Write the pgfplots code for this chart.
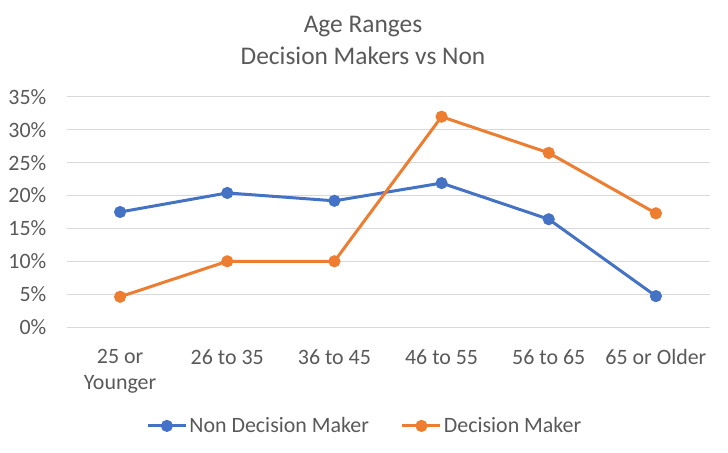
\documentclass[border=0pt]{standalone}
\usepackage{pgfplots}
\pgfplotsset{compat=1.18}
\usepackage{fontspec}
\setmainfont{Carlito}
\definecolor{cblue}{HTML}{4472C4}
\definecolor{corange}{HTML}{ED7D31}
\definecolor{ctext}{HTML}{595959}
\definecolor{cgrid}{HTML}{D9D9D9}
\begin{document}
\begin{tikzpicture}
\path[use as bounding box] (0,0) rectangle (728bp,453bp);
\node[anchor=base, text=ctext, font={\fontsize{25.5}{31}\selectfont}, inner sep=0pt] at (363bp,420bp) {Age Ranges};
\node[anchor=base, text=ctext, font={\fontsize{25.5}{31}\selectfont}, inner sep=0pt] at (363bp,388bp) {Decision Makers vs Non};
\begin{axis}[
  at={(66.5bp,126bp)}, anchor=south west,
  scale only axis, width=643bp, height=230bp,
  xmin=-0.5, xmax=5.5, ymin=0, ymax=35,
  clip=false,
  axis line style={draw=none},
  major tick length=0pt,
  ymajorgrids, grid style={cgrid, line width=1bp},
  ytick={0,5,...,35},
  yticklabel={\pgfmathprintnumber{\tick}\%},
  /pgf/number format/assume math mode=true,
  xtick={0,1,2,3,4,5},
  xticklabels={{25 or\\Younger},{26 to 35},{36 to 45},{46 to 55},{56 to 65},{65 or Older}},
  ticklabel style={text=ctext, font={\fontsize{22}{26}\selectfont}, inner sep=0pt},
  yticklabel style={anchor=east, xshift=-20bp},
  xticklabel style={anchor=north, align=center, yshift=-22bp},
  legend columns=2,
  legend style={at={(0.464,-0.43)}, anchor=center, draw=none, fill=none,
    text=ctext, font={\fontsize{22}{26}\selectfont},
    nodes={inner sep=2bp},
    /tikz/every even column/.append style={column sep=30bp}},
  legend image code/.code={\draw[mark repeat=2,mark phase=2,#1] plot coordinates {(0bp,0bp)(19bp,0bp)(38bp,0bp)};},
]
\addplot[cblue, line width=3bp, mark=*, mark size=4.5bp, mark options={solid}] coordinates {
(0,17.5) (1,20.4) (2,19.2) (3,21.9) (4,16.4) (5,4.7)};
\addlegendentry{Non Decision Maker}
\addplot[corange, line width=3bp, mark=*, mark size=4.5bp, mark options={solid}] coordinates {
(0,4.6) (1,10.0) (2,10.0) (3,32.0) (4,26.5) (5,17.3)};
\addlegendentry{Decision Maker}
\end{axis}
\end{tikzpicture}
\end{document}
